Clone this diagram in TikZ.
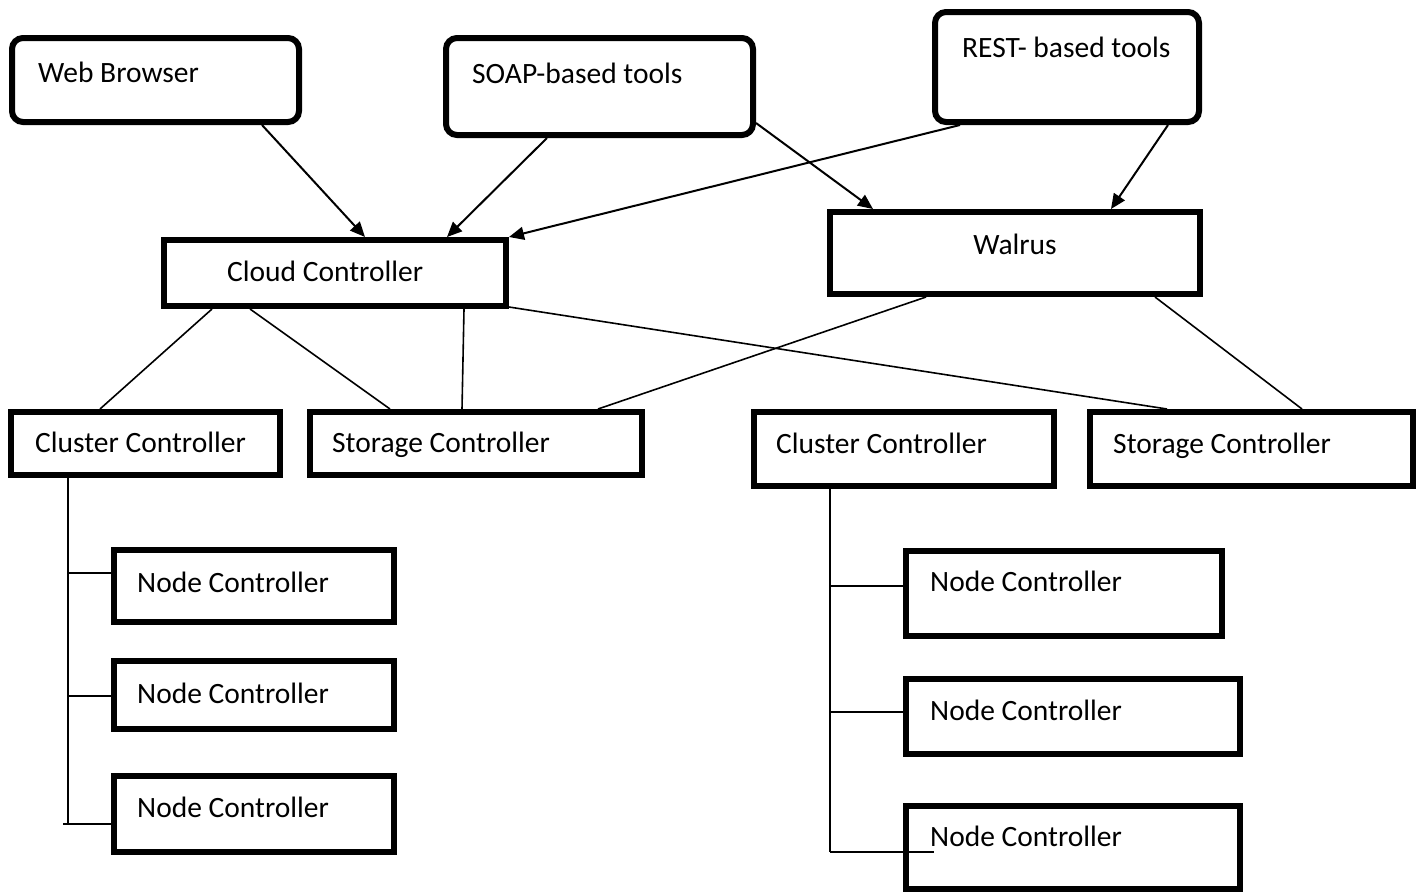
\documentclass[tikz,border=0pt]{standalone}
\usepackage{fontspec}
\setmainfont{Carlito}
\usetikzlibrary{arrows.meta}
\tikzset{
  box/.style={draw, line width=6pt, outer sep=3pt, inner sep=0pt, anchor=north west},
  rbox/.style={box, rounded corners=11pt},
  lbl/.style={anchor=base west, inner sep=0pt},
  link/.style={line width=1.6pt},
  flow/.style={line width=2pt, ->},
  tree/.style={line width=1.4pt}
}
\begin{document}
\begin{tikzpicture}[x=1pt,y=-1pt,font=\fontsize{29.5}{35}\selectfont, >={Triangle[length=15pt,width=13pt]}]
\useasboundingbox (0,0) rectangle (1416,892);
% clients
\node[rbox,minimum width=287,minimum height=84] (wb) at (9,35) {};
\node[lbl] (wb-t) at ([shift={(29,47)}]wb.north west) {Web Browser};
\node[rbox,minimum width=307,minimum height=97] (soap) at (443,35) {};
\node[lbl] (soap-t) at ([shift={(29,48)}]soap.north west) {SOAP-based tools};
\node[rbox,minimum width=264,minimum height=110] (rest) at (932,9) {};
\node[lbl] (rest-t) at ([shift={(30,48)}]rest.north west) {REST- based tools};
% controllers
\node[box,minimum width=342,minimum height=66] (cloud) at (161,237) {};
\node[lbl] (cloud-t) at ([shift={(66,44)}]cloud.north west) {Cloud Controller};
\node[box,minimum width=370,minimum height=82] (walrus) at (827,209) {};
\node[anchor=base,inner sep=0pt] (walrus-t) at ([yshift=-45]walrus.north) {Walrus};
\node[box,minimum width=269,minimum height=63] (lcc) at (8,409) {};
\node[lbl] (lcc-t) at ([shift={(27,43)}]lcc.north west) {Cluster Controller};
\node[box,minimum width=332,minimum height=63] (lsc) at (307,409) {};
\node[lbl] (lsc-t) at ([shift={(25,43)}]lsc.north west) {Storage Controller};
\node[box,minimum width=300,minimum height=74] (rcc) at (751,409) {};
\node[lbl] (rcc-t) at ([shift={(25,44)}]rcc.north west) {Cluster Controller};
\node[box,minimum width=323,minimum height=74] (rsc) at (1087,409) {};
\node[lbl] (rsc-t) at ([shift={(26,44)}]rsc.north west) {Storage Controller};
% node controllers
\node[box,minimum width=280,minimum height=72] (lnc1) at (111,547) {};
\node[lbl] (lnc1-t) at ([shift={(26,45)}]lnc1.north west) {Node Controller};
\node[box,minimum width=280,minimum height=68] (lnc2) at (111,658) {};
\node[lbl] (lnc2-t) at ([shift={(26,45)}]lnc2.north west) {Node Controller};
\node[box,minimum width=280,minimum height=76] (lnc3) at (111,773) {};
\node[lbl] (lnc3-t) at ([shift={(26,44)}]lnc3.north west) {Node Controller};
\node[box,minimum width=316,minimum height=85] (rnc1) at (903,548) {};
\node[lbl] (rnc1-t) at ([shift={(27,43)}]rnc1.north west) {Node Controller};
\node[box,minimum width=334,minimum height=75] (rnc2) at (903,676) {};
\node[lbl] (rnc2-t) at ([shift={(27,44)}]rnc2.north west) {Node Controller};
\node[box,minimum width=334,minimum height=83] (rnc3) at (903,803) {};
\node[lbl] (rnc3-t) at ([shift={(27,43)}]rnc3.north west) {Node Controller};
% arrows
\draw[flow] ([xshift=253]wb.south west) -- ([xshift=204]cloud.north west);
\draw[flow] ([xshift=104]soap.south west) -- ([xshift=286]cloud.north west);
\draw[flow] ([xshift=28]rest.south west) -- (cloud.north east);
\draw[flow] ([yshift=15]soap.south east) -- ([xshift=46]walrus.north west);
\draw[flow] ([xshift=236]rest.south west) -- ([xshift=284]walrus.north west);
% links
\draw[link] ([xshift=51]cloud.south west) -- ([xshift=92]lcc.north west);
\draw[link] ([xshift=89]cloud.south west) -- ([xshift=83]lsc.north west);
\draw[link] ([xshift=303]cloud.south west) -- ([xshift=155]lsc.north west);
\draw[link] ([yshift=2]cloud.south east) -- ([xshift=80]rsc.north west);
\draw[link] ([xshift=99]walrus.south west) -- ([xshift=291]lsc.north west);
\draw[link] ([xshift=328]walrus.south west) -- ([xshift=215]rsc.north west);
% left cluster
\coordinate (lbus) at ([xshift=60]lcc.south west);
\coordinate (l1) at ([yshift=13]lnc1.west);
\coordinate (l2) at ([yshift=-1]lnc2.west);
\coordinate (l3) at ([yshift=-10]lnc3.west);
\draw[tree] (lbus) -- (lbus |- l3);
\draw[tree] (lbus |- l1) -- (l1);
\draw[tree] (lbus |- l2) -- (l2);
\draw[tree] ([xshift=-5]lbus |- l3) -- (l3);
% right cluster
\coordinate (rbus) at ([xshift=79]rcc.south west);
\coordinate (r1) at ([yshift=7.5]rnc1.west);
\coordinate (r2) at ([yshift=4.5]rnc2.west);
\coordinate (r3) at ([shift={(31,4.5)}]rnc3.west);
\draw[tree] (rbus) -- (rbus |- r3);
\draw[tree] (rbus |- r1) -- (r1);
\draw[tree] (rbus |- r2) -- (r2);
\draw[tree] (rbus |- r3) -- (r3);
\end{tikzpicture}
\end{document}
